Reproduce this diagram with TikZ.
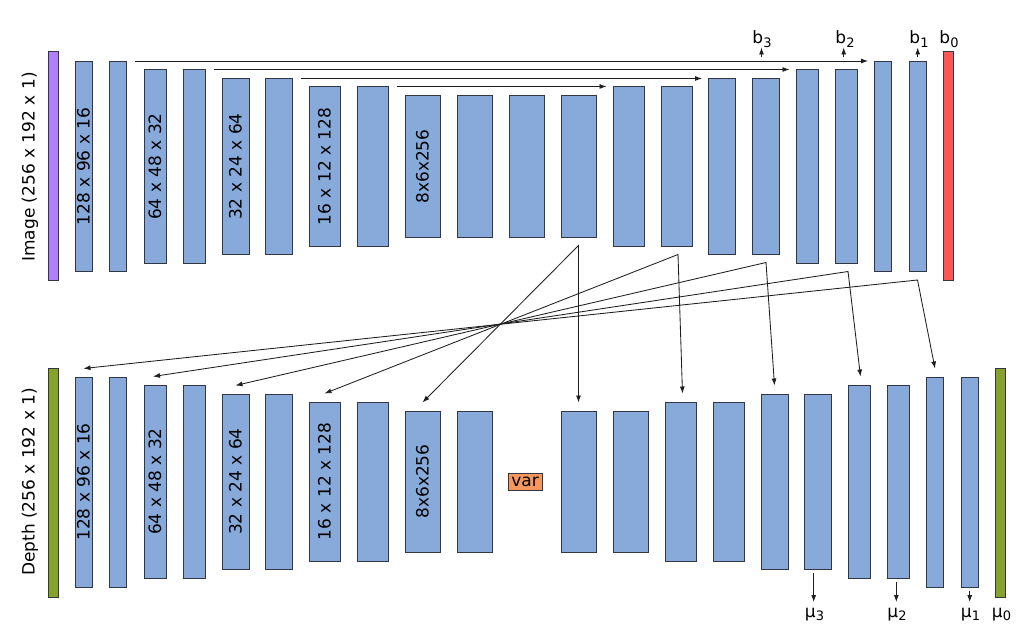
\documentclass[tikz,border=0pt]{standalone}
\usepackage{fontspec}
\setmainfont{DejaVu Sans}
\usetikzlibrary{arrows.meta,calc}
\definecolor{blkblue}{RGB}{136,170,218}
\definecolor{edgegray}{RGB}{50,55,65}
\definecolor{imgpurple}{RGB}{176,128,250}
\definecolor{outred}{RGB}{255,85,85}
\definecolor{depgreen}{RGB}{134,162,42}
\definecolor{varorange}{RGB}{244,150,94}
\definecolor{arrgray}{RGB}{30,30,30}
\newcommand{\ublk}[5]{\node[blk,minimum width=#4,minimum height=#5] (#1) at (#2,#3) {};}
\newcommand{\subtxt}[1]{\raisebox{-3.5pt}{\fontsize{13pt}{15pt}\selectfont #1}}
\begin{document}
\begin{tikzpicture}[x=1pt,y=-1pt,
  every node/.style={font=\fontsize{17pt}{20pt}\selectfont},
  blk/.style={draw=edgegray,fill=blkblue,line width=1pt,inner sep=0pt},
  bar/.style={draw=edgegray,line width=1pt,inner sep=0pt,minimum width=10,minimum height=229},
  arr/.style={draw=arrgray,line width=0.85pt,-{Latex[length=7pt,width=5pt]}},
  arrb/.style={draw=arrgray,line width=0.85pt,{Latex[length=7pt,width=5pt]}-{Latex[length=7pt,width=5pt]}},
  dimlabel/.style={rotate=90,inner sep=0pt}]
\useasboundingbox (0,0) rectangle (1024,636);
% ---------- top row (image encoder / decoder) ----------
\node[bar,fill=imgpurple] (img) at (53,166) {};
\ublk{t1}{83.5}{166.5}{17}{210}
\ublk{t2}{118}{166.5}{17}{210}
\ublk{t3}{155}{166.5}{22}{193}
\ublk{t4}{194}{166.5}{22}{193}
\ublk{t5}{235.5}{166.5}{27}{175}
\ublk{t6}{279}{166.5}{27}{175}
\ublk{t7}{324.5}{166.5}{31}{159}
\ublk{t8}{372.5}{166.5}{31}{159}
\ublk{t9}{422.5}{166.5}{35}{141}
\ublk{t10}{474.5}{166.5}{35}{141}
\ublk{t11}{526.5}{166.5}{35}{141}
\ublk{t12}{578.5}{166.5}{35}{141}
\ublk{t13}{628.5}{166.5}{31}{159}
\ublk{t14}{676.5}{166.5}{31}{159}
\ublk{t15}{722}{166.5}{27}{175}
\ublk{t16}{765.5}{166.5}{27}{175}
\ublk{t17}{807}{166.5}{22}{193}
\ublk{t18}{846}{166.5}{22}{193}
\ublk{t19}{883}{166.5}{17}{210}
\ublk{t20}{917.5}{166.5}{17}{210}
\node[bar,fill=outred] (outb) at (948.5,166) {};
\node[rotate=90] (imglab) at (30,167) {Image (256 x 192 x 1)};
\node[dimlabel] (lt1) at (t1.center) {128 x 96 x 16};
\node[dimlabel] (lt3) at (t3.center) {64 x 48 x 32};
\node[dimlabel] (lt5) at (t5.center) {32 x 24 x 64};
\node[dimlabel] (lt7) at (t7.center) {16 x 12 x 128};
\node[dimlabel] (lt9) at (t9.center) {8x6x256};
% skip connections
\draw[arr] ($(t2.north east)+(8,0)$) -- ($(t19.north west)+(-6,0)$);
\draw[arr] ($(t4.north east)+(8,0)$) -- ($(t17.north west)+(-6,0)$);
\draw[arr] ($(t6.north east)+(8,0)$) -- ($(t15.north west)+(-6,0)$);
\draw[arr] ($(t8.north east)+(8,0)$) -- ($(t13.north west)+(-6,0)$);
% b outputs
\node[anchor=base,inner sep=0pt] (b3) at (762,44) {b\subtxt{3}};
\node[anchor=base,inner sep=0pt] (b2) at (845,44) {b\subtxt{2}};
\node[anchor=base,inner sep=0pt] (b1) at (919,44) {b\subtxt{1}};
\node[anchor=base,inner sep=0pt] (b0) at (949,44) {b\subtxt{0}};
\coordinate (b3s) at (761.5,57.5);
\coordinate (b2s) at (843.7,57.5);
\coordinate (b1s) at (917.7,57.5);
\draw[arr] (b3s) -- (761.5,47.5);
\draw[arr] (b2s) -- (843.7,47.5);
\draw[arr] (b1s) -- (917.7,47.5);
% ---------- bottom row (depth) ----------
\node[bar,fill=depgreen] (dep) at (53,482.5) {};
\ublk{d1}{83.5}{482}{17}{210}
\ublk{d2}{118}{482}{17}{210}
\ublk{d3}{155}{481.5}{22}{193}
\ublk{d4}{194}{481.5}{22}{193}
\ublk{d5}{235.5}{481.5}{27}{175}
\ublk{d6}{279}{481.5}{27}{175}
\ublk{d7}{324.5}{481.5}{31}{159}
\ublk{d8}{372.5}{481.5}{31}{159}
\ublk{d9}{422.5}{481.5}{35}{141}
\ublk{d10}{474.5}{481.5}{35}{141}
\node[draw=edgegray,fill=varorange,line width=0.8pt,inner sep=0pt,minimum width=34,minimum height=17] (var) at (525,481.5) {var};
\ublk{dA}{578.5}{481.5}{35}{141}
\ublk{dB}{631}{481.5}{35}{141}
\ublk{dC}{680.5}{481.5}{31}{159}
\ublk{dD}{728.5}{481.5}{31}{159}
\ublk{dE}{774.5}{481.5}{27}{175}
\ublk{dF}{818}{481.5}{27}{175}
\ublk{dG}{859}{481.5}{22}{193}
\ublk{dH}{898}{481.5}{22}{193}
\ublk{dI}{935}{482}{17}{210}
\ublk{dJ}{970}{482}{17}{210}
\node[bar,fill=depgreen] (mu0bar) at (1000.5,482.5) {};
\node[rotate=90] (deplab) at (30,482) {Depth (256 x 192 x 1)};
\node[dimlabel] (ld1) at (d1.center) {128 x 96 x 16};
\node[dimlabel] (ld3) at (d3.center) {64 x 48 x 32};
\node[dimlabel] (ld5) at (d5.center) {32 x 24 x 64};
\node[dimlabel] (ld7) at (d7.center) {16 x 12 x 128};
\node[dimlabel] (ld9) at (d9.center) {8x6x256};
% mu outputs
\node[anchor=base,inner sep=0pt] (mu3) at (814.5,617) {μ\subtxt{3}};
\node[anchor=base,inner sep=0pt] (mu2) at (897,617) {μ\subtxt{2}};
\node[anchor=base,inner sep=0pt] (mu1) at (970.5,617) {μ\subtxt{1}};
\node[anchor=base,inner sep=0pt] (mu0) at (1001.5,617) {μ\subtxt{0}};
\coordinate (m3s) at (813.7,573);
\coordinate (m2s) at (896.3,582);
\coordinate (m1s) at (969.7,591);
\draw[arr] (m3s) -- (813.7,602);
\draw[arr] (m2s) -- (896.3,602);
\draw[arr] (m1s) -- (969.7,602);
% ---------- cross connections ----------
\coordinate (s1) at ($(t12.south)+(0,8)$);
\coordinate (s2) at ($(t14.south)+(1.5,8)$);
\coordinate (s3) at ($(t16.south)+(0.5,8)$);
\coordinate (s4) at ($(t18.south)+(2,8)$);
\coordinate (s5) at ($(t20.south)+(0,8)$);
\draw[arrb,line join=miter] ($(d9.north)+(0,-8)$) -- (s1) -- ($(dA.north)+(0,-8)$);
\draw[arrb,line join=miter] ($(d7.north)+(0,-8)$) -- (s2) -- ($(dC.north)+(2,-8)$);
\draw[arrb,line join=miter] ($(d5.north)+(0,-8)$) -- (s3) -- ($(dE.north)+(0,-8)$);
\draw[arrb,line join=miter] ($(d3.north)+(-2,-8)$) -- (s4) -- ($(dG.north)+(1.5,-8)$);
\draw[arrb,line join=miter] ($(d1.north)+(0,-8)$) -- (s5) -- ($(dI.north)+(0,-8)$);
\end{tikzpicture}
\end{document}
